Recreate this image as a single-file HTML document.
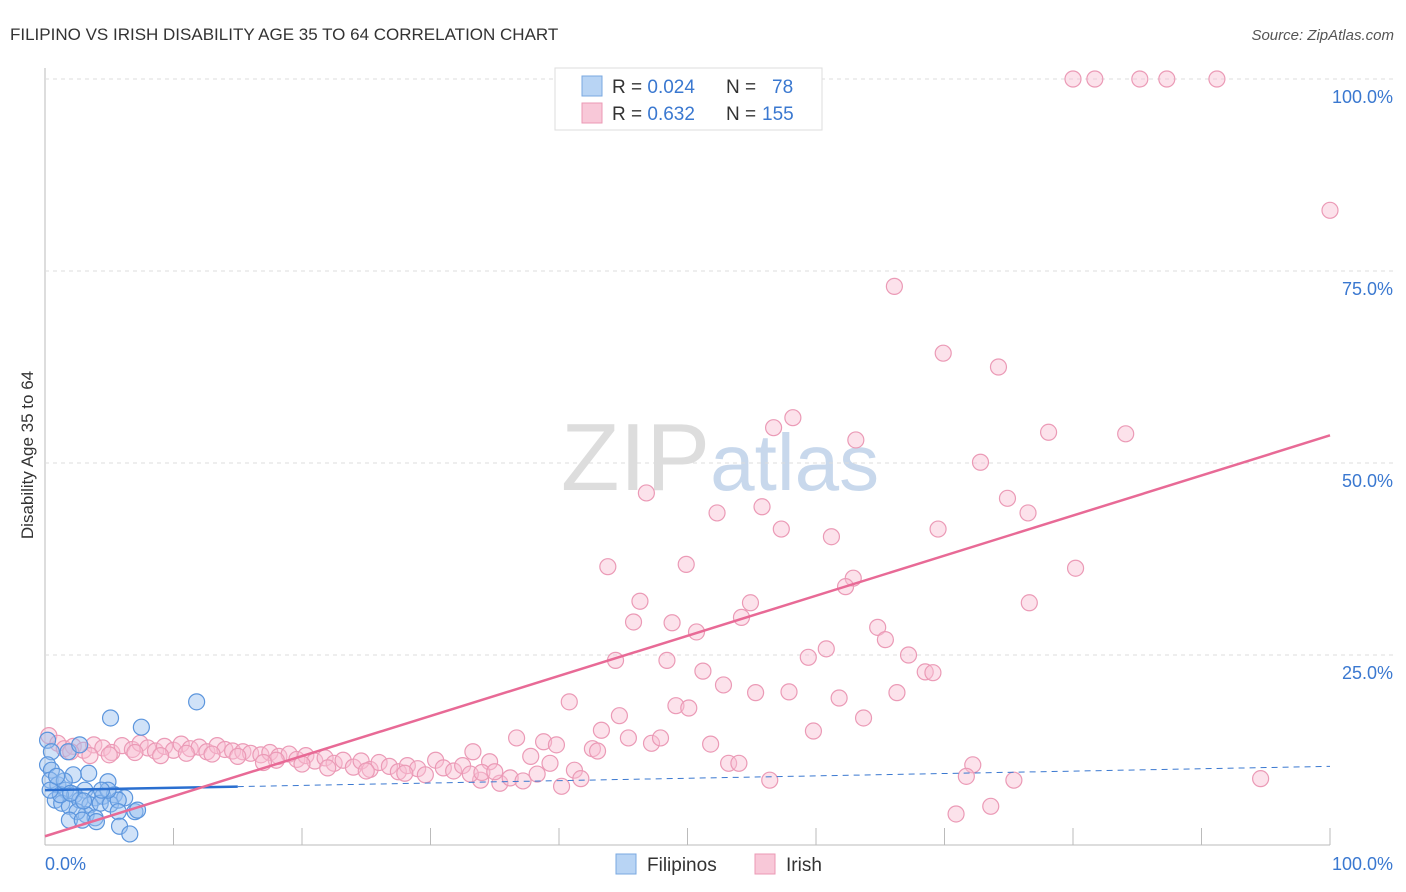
<!DOCTYPE html>
<html><head><meta charset="utf-8"><style>
body{margin:0;background:#fff;font-family:"Liberation Sans",sans-serif;}
#wrap{position:relative;width:1406px;height:892px;overflow:hidden;}
svg text{font-family:"Liberation Sans",sans-serif;}
</style></head><body>
<div id="wrap">
<svg id="chart" width="1406" height="892">
<text x="10" y="40" font-size="17" fill="#333">FILIPINO VS IRISH DISABILITY AGE 35 TO 64 CORRELATION CHART</text>
<text x="1394" y="40" font-size="15" fill="#555" font-style="italic" text-anchor="end">Source: ZipAtlas.com</text>
<text x="720" y="490" font-size="96" fill="#ddd" text-anchor="middle" font-family="Liberation Serif">ZIP<tspan fill="#c8d8ec" font-family="Liberation Sans" font-size="80">atlas</tspan></text>
<text transform="translate(33,455) rotate(-90)" font-size="17" fill="#333" text-anchor="middle">Disability Age 35 to 64</text>
<g id="grid"></g><g id="marks"></g>
<g>
<rect x="555" y="68" width="267" height="62" fill="#fff" stroke="#ddd"/>
<rect x="582" y="76" width="20" height="20" fill="#b8d4f4" stroke="#7aa8e0"/>
<rect x="582" y="103" width="20" height="20" fill="#f8c8d8" stroke="#eb99b4"/>
<text x="612" y="93" font-size="19" fill="#333">R = <tspan fill="#3a78d0">0.024</tspan><tspan x="726">N = </tspan><tspan fill="#3a78d0" x="772">78</tspan></text>
<text x="612" y="120" font-size="19" fill="#333">R = <tspan fill="#3a78d0">0.632</tspan><tspan x="726">N = </tspan><tspan fill="#3a78d0" x="762">155</tspan></text>
</g>
<g>
<rect x="616" y="854" width="20" height="20" fill="#b8d4f4" stroke="#7aa8e0"/>
<text x="647" y="871" font-size="19" fill="#333">Filipinos</text>
<rect x="755" y="854" width="20" height="20" fill="#f8c8d8" stroke="#eb99b4"/>
<text x="786" y="871" font-size="19" fill="#333">Irish</text>
</g>
</svg></div>
<script>
const yTicks=[25,50,75,100];
const yTickLabels=["25.0%","50.0%","75.0%","100.0%"];
const xTicks=[0,10,20,30,40,50,60,70,80,90,100];
const filipinos=[[11.8,18.9],[5.1,16.8],[7.5,15.6],[0.2,13.9],[0.5,12.4],[1.8,12.4],[2.7,13.3],[0.2,10.7],[0.5,10],[3.4,9.6],[2.2,9.4],[4.9,8.5],[0.4,8.7],[1,8.1],[1.6,7.4],[2.3,6.8],[3.1,7.4],[3.9,6.4],[4.5,6.6],[5.4,6.8],[6.2,6.4],[0.8,6.1],[1.3,5.7],[1.9,5.3],[2.7,6.1],[3.5,5.5],[4.3,5.7],[5.1,5.6],[5.7,6.1],[1.2,6.8],[3.2,4.2],[2.5,4.6],[3.9,3.8],[1.9,3.5],[2.9,3.5],[7,4.6],[7.2,4.8],[5.7,4.6],[5.8,2.7],[6.6,1.7],[4,3.3],[4.9,7.4],[4.4,7.4],[0.4,7.4],[1.5,8.6],[2,7],[3,6],[0.9,9.2]];
const irish=[[80,100],[81.7,100],[85.2,100],[87.3,100],[91.2,100],[100,82.9],[66.1,73],[69.9,64.3],[74.2,62.5],[58.2,55.9],[56.7,54.6],[63.1,53],[78.1,54],[84.1,53.8],[72.8,50.1],[46.8,46.1],[74.9,45.4],[52.3,43.5],[55.8,44.3],[76.5,43.5],[57.3,41.4],[69.5,41.4],[61.2,40.4],[43.8,36.5],[49.9,36.8],[80.2,36.3],[62.9,35],[62.3,33.9],[46.3,32],[54.9,31.8],[76.6,31.8],[45.8,29.3],[48.8,29.2],[54.2,29.9],[50.7,28],[64.8,28.6],[65.4,27],[60.8,25.8],[59.4,24.7],[67.2,25],[44.4,24.3],[48.4,24.3],[51.2,22.9],[68.5,22.8],[69.1,22.7],[52.8,21.1],[55.3,20.1],[57.9,20.2],[61.8,19.4],[66.3,20.1],[40.8,18.9],[49.1,18.4],[50.1,18.1],[63.7,16.8],[44.7,17.1],[43.3,15.2],[59.8,15.1],[36.7,14.2],[45.4,14.2],[47.2,13.5],[47.9,14.2],[38.8,13.7],[39.8,13.3],[51.8,13.4],[42.6,12.8],[43,12.5],[37.8,11.8],[33.3,12.4],[39.3,10.9],[34.6,11.1],[53.2,10.9],[54,10.9],[72.2,10.7],[71.7,9.2],[38.3,9.5],[41.2,10],[41.7,8.9],[33.9,8.7],[35.4,8.3],[36.2,9],[37.2,8.6],[56.4,8.7],[75.4,8.7],[94.6,8.9],[40.2,7.9],[73.6,5.3],[70.9,4.3],
[0.3,14.5],[1,13.5],[1.5,12.8],[2.2,13.1],[3,12.6],[3.8,13.3],[4.5,12.9],[5.2,12.3],[6,13.2],[6.8,12.7],[7.4,13.5],[8,12.9],[8.6,12.5],[9.3,13.1],[10,12.6],[10.6,13.4],[11.3,12.8],[12,13],[12.6,12.4],[13.4,13.2],[14,12.7],[14.6,12.5],[15.4,12.4],[16,12.2],[16.8,12],[17.5,12.3],[18.2,11.8],[19,12.1],[19.6,11.4],[20.3,11.9],[21,11.2],[21.8,11.6],[22.5,10.9],[23.2,11.3],[24,10.4],[24.6,11.2],[25.3,10.1],[26,11],[26.8,10.5],[27.5,9.8],[28.2,10.6],[29,10.2],[29.6,9.4],[30.4,11.3],[31,10.3],[31.8,9.9],[32.5,10.6],[33.1,9.5],[34,9.7],[35,9.8],[22,10.3],[25,9.9],[28,9.6],[18,11.3],[20,10.8],[17,11],[15,11.8],[13,12.1],[11,12.2],[9,11.9],[7,12.3],[5,12],[3.5,11.9],[2,12.4]];
const irishTrend=[1.4,53.6];
const filipinoTrend=[7.4,10.5];
const filipinoSolidEnd=15;

const X=v=>45+v*12.85, Y=v=>847-v*7.68;
const NS="http://www.w3.org/2000/svg";
const grid=document.getElementById('grid'), marks=document.getElementById('marks');
function mk(tag,attrs,parent){const e=document.createElementNS(NS,tag);for(const k in attrs)e.setAttribute(k,attrs[k]);parent.appendChild(e);return e;}
let l=mk('line',{x1:45,y1:68,x2:45,y2:845,stroke:'#bbb'},grid);


l=mk('line',{x1:45,y1:845,x2:1330,y2:845,stroke:'#bbb'},grid);


l=mk('line',{x1:45,y1:Y(100),x2:1394,y2:Y(100),stroke:'#ddd','stroke-dasharray':'4 4'},grid);
yTicks.forEach((t,i)=>{
  const g=mk('line',{x1:45,y1:Y(t),x2:1394,y2:Y(t),stroke:'#ddd','stroke-dasharray':'4 4'},grid);
  
  
  const tx=mk('text',{x:1393,y:Y(t)+24,'font-size':18,fill:'#3a78d0','text-anchor':'end'},grid);
  tx.textContent=yTickLabels[i];
  
  
});
xTicks.forEach(t=>{
  const g=mk('line',{x1:X(t),y1:828,x2:X(t),y2:845,stroke:'#bbb'},grid);
  
  
});
let t0=mk('text',{x:45,y:870,'font-size':18,fill:'#3a78d0'},grid);t0.textContent='0.0%';


let t1=mk('text',{x:1393,y:870,'font-size':18,fill:'#3a78d0','text-anchor':'end'},grid);t1.textContent='100.0%';


irish.forEach(p=>{
  const c=mk('circle',{cx:X(p[0]),cy:Y(p[1]),r:8,fill:'rgba(248,190,210,0.45)',stroke:'#eb9ab6','stroke-width':1.2},marks);
  
  
});
filipinos.forEach(p=>{
  const c=mk('circle',{cx:X(p[0]),cy:Y(p[1]),r:8,fill:'rgba(150,190,240,0.45)',stroke:'#5b95dd','stroke-width':1.2},marks);
  
  
});
const fy=x=>filipinoTrend[0]+(filipinoTrend[1]-filipinoTrend[0])*x/100;
l=mk('line',{x1:X(filipinoSolidEnd),y1:Y(fy(filipinoSolidEnd)),x2:X(100),y2:Y(fy(100)),stroke:'#3a78d0','stroke-width':1,'stroke-dasharray':'6 5'},marks);


l=mk('line',{x1:X(0),y1:Y(fy(0)),x2:X(filipinoSolidEnd),y2:Y(fy(filipinoSolidEnd)),stroke:'#2a6fd0','stroke-width':2.5},marks);


l=mk('line',{x1:X(0),y1:Y(irishTrend[0]),x2:X(100),y2:Y(irishTrend[1]),stroke:'#e86a96','stroke-width':2.5},marks);


</script>
</body></html>
